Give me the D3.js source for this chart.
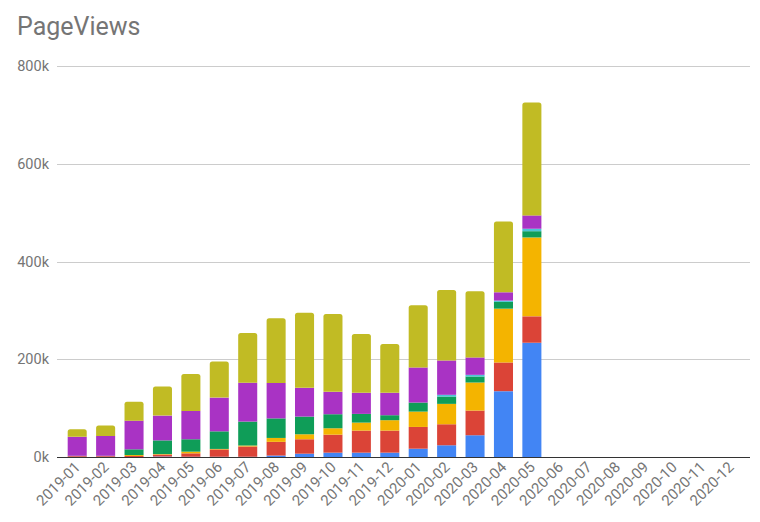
<!DOCTYPE html>
<html><head><meta charset="utf-8">
<script src="https://cdn.jsdelivr.net/npm/d3@7"></script>
<style>body{margin:0;background:#fff}svg{display:block;font-family:Roboto,sans-serif}</style>
</head><body><svg id="c" width="760" height="522"></svg>
<script>
const months = ["2019-01","2019-02","2019-03","2019-04","2019-05","2019-06","2019-07","2019-08","2019-09","2019-10","2019-11","2019-12","2020-01","2020-02","2020-03","2020-04","2020-05","2020-06","2020-07","2020-08","2020-09","2020-10","2020-11","2020-12"];
const seriesNames = ["s1","s2","s3","s4","s5","s6","s7"];
const s1 = [500,500,0,1000,500,500,500,3000,6800,8900,8900,8900,17000,24000,44500,134700,233800,0,0,0,0,0,0,0];
const s2 = [1500,1500,2000,4000,7000,15000,21000,28000,29500,36800,45100,45100,44500,43000,50500,58700,54000,0,0,0,0,0,0,0];
const s3 = [0,0,2000,1000,3400,1000,2000,8000,10200,13100,16400,21300,31400,41700,57400,110100,161400,0,0,0,0,0,0,0];
const s4 = [500,500,11700,28000,25400,36000,49000,40000,36200,28700,17800,10200,18500,15000,12300,13800,12800,0,0,0,0,0,0,0];
const s5 = [0,0,0,0,0,0,0,0,0,0,0,0,0,3500,3400,2700,5000,0,0,0,0,0,0,0];
const s6 = [38800,40500,58700,50700,58000,69000,79400,72400,58800,45800,43100,45800,71800,70300,35600,17000,27300,0,0,0,0,0,0,0];
const s7 = [15500,21200,38400,59300,75300,73800,101900,132600,153800,159300,120300,99800,127100,144300,135300,145000,231100,0,0,0,0,0,0,0];
const colors = ["#4285F4","#DB4437","#F4B400","#0F9D58","#4DC3D6","#A933C4","#C1BB24"];
const yTicks = [0,200000,400000,600000,800000];
const yTickLabels = ["0k","200k","400k","600k","800k"];
const title = "PageViews";

const values = [s1,s2,s3,s4,s5,s6,s7];
const table = months.map((m,i)=>{const o={month:m};seriesNames.forEach((s,j)=>o[s]=values[j][i]);return o;});
const stack = d3.stack().keys(seriesNames)(table);

const svg = d3.select("#c");
const x = d3.scaleBand().domain(months).range([63,745]).paddingInner(0.33).paddingOuter(0.165);
const y = d3.scaleLinear().domain([0,800000]).range([457,66]);

svg.append("text").attr("x",17).attr("y",35).attr("fill","#757575").attr("font-size",25).text(title);

// gridlines
const g = svg.append("g");
g.selectAll("line.grid").data(yTicks.filter(t=>t>0)).join("line")
  .attr("x1",57).attr("x2",750).attr("y1",d=>Math.round(y(d))+0.5).attr("y2",d=>Math.round(y(d))+0.5)
  .attr("stroke","#cccccc").attr("stroke-width",1);
svg.selectAll("text.yl").data(yTicks).join("text")
  .attr("x",49).attr("y",d=>y(d)+5).attr("text-anchor","end").attr("fill","#757575").attr("font-size",14.5)
  .text((d,i)=>yTickLabels[i]);

// top index per month
const topIdx = months.map((m,i)=>{let t=-1;values.forEach((v,j)=>{if(v[i]>0)t=j;});return t;});
const bw = x.bandwidth(), r = 2.5;
stack.forEach((layer,j)=>{
  svg.append("g").selectAll("path").data(layer.filter(d=>d[1]>d[0])).join("path")
    .attr("fill",colors[j])
    .attr("d",d=>{
      const i = months.indexOf(d.data.month);
      const x0 = x(d.data.month), x1 = x0+bw, yt = y(d[1]), yb = y(d[0]);
      if (topIdx[i]===j){
        const rr = Math.min(r,(yb-yt));
        return `M${x0},${yb}V${yt+rr}Q${x0},${yt} ${x0+rr},${yt}H${x1-rr}Q${x1},${yt} ${x1},${yt+rr}V${yb}Z`;
      }
      return `M${x0},${yb}V${yt}H${x1}V${yb}Z`;
    });
});

// baseline
svg.append("line").attr("x1",57).attr("x2",750).attr("y1",457.5).attr("y2",457.5).attr("stroke","#333").attr("stroke-width",1);

// x labels
svg.selectAll("text.xl").data(months).join("text")
  .attr("transform",d=>`translate(${x(d)+bw/2+4},${468}) rotate(-45)`)
  .attr("text-anchor","end").attr("fill","#757575").attr("font-size",15).text(d=>d);
</script></body></html>
